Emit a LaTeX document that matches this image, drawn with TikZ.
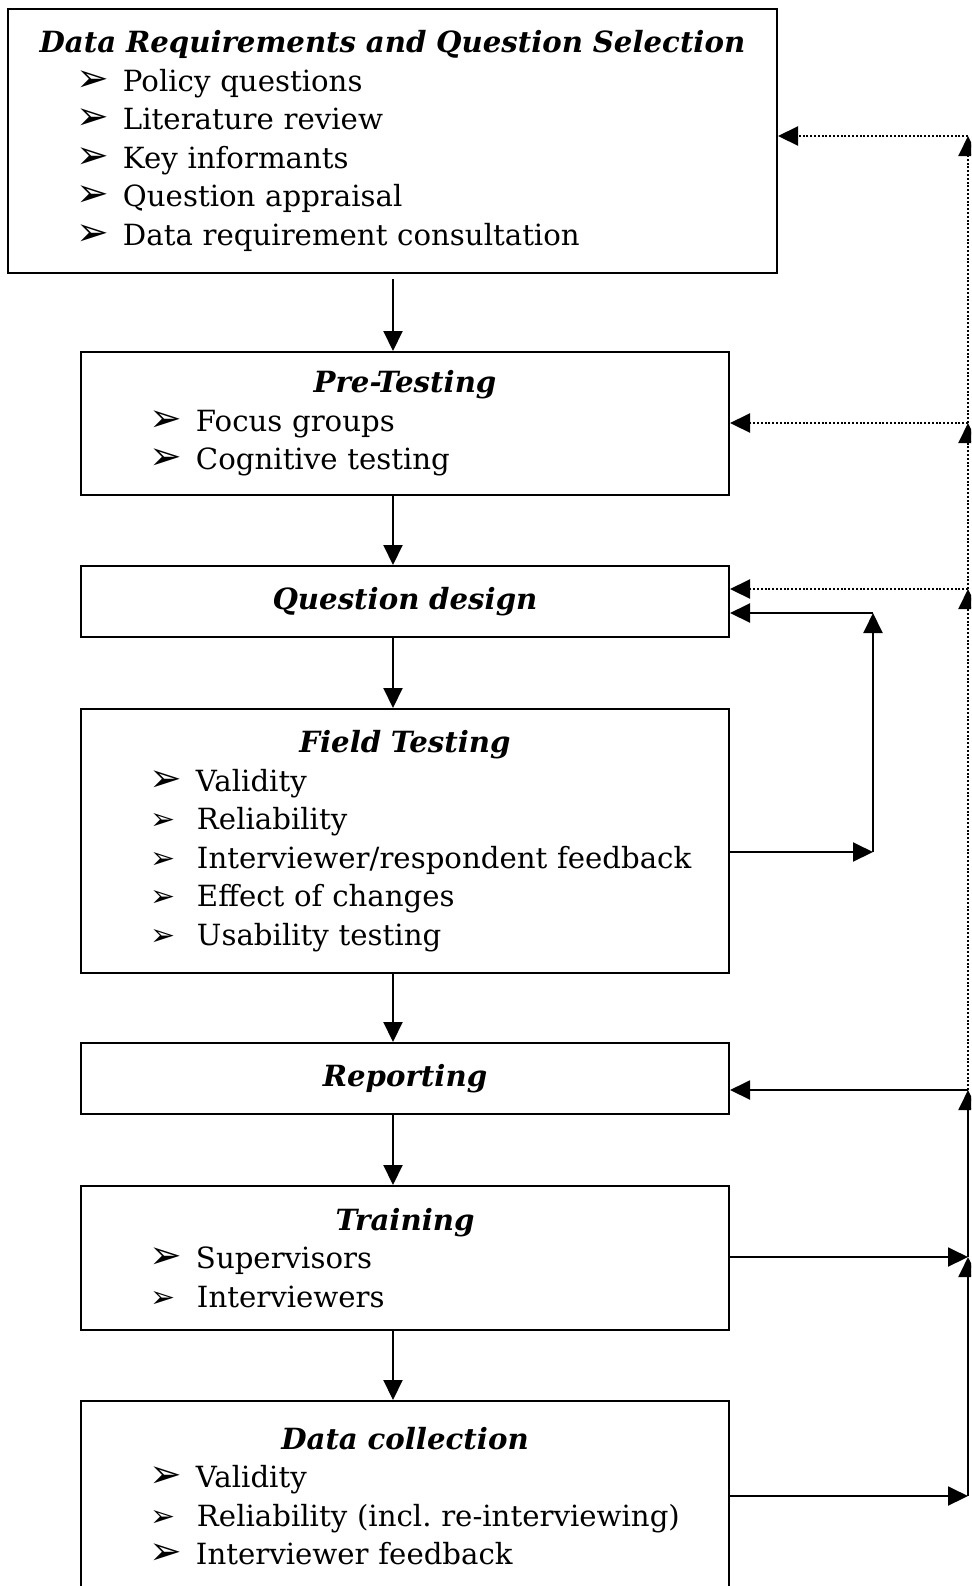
\documentclass[tikz,border=0pt]{standalone}
\usepackage{fontspec}
\setmainfont{DejaVu Serif}
\newfontfamily\dingfont{DejaVu Sans}
\usepackage{tikz}
\usetikzlibrary{positioning,arrows.meta,calc}

\newcommand{\bodyfont}{\fontsize{14.6}{19.25}\selectfont}
\newcommand{\ttl}{\fontsize{14.6}{19.25}\selectfont\bfseries\itshape}
\newcommand{\bigtip}{\makebox[23pt][l]{\dingfont\fontsize{19.5}{19}\selectfont ➢}}
\newcommand{\smltip}{\makebox[23pt][l]{\dingfont\fontsize{15}{15}\selectfont ➢}}
\newcommand{\itm}[1]{\par\hspace*{34.5pt}\bigtip#1}
\newcommand{\itms}[1]{\par\hspace*{35pt}\smltip#1}

\begin{document}
\begin{tikzpicture}[
  x=0.5pt, y=0.5pt,
  box/.style ={draw, line width=1pt, inner xsep=0pt, inner ysep=0pt,
               align=left, text width=324pt, font=\bodyfont},
  arr/.style ={-{Triangle[length=10pt,width=9.5pt]}, line width=1pt},
  darr/.style={arr, line width=1.1pt, dash pattern=on 1pt off 0.9pt}]

\clip (0,0) rectangle (971,-1586);

%% ── Stage boxes (top to bottom) ──────────────────────────────────
\node[box, text width=384.5pt, minimum height=132pt] (req) at (392.5,-141)
  {{\centering\ttl Data Requirements and Question Selection\par}
   \itm{Policy questions}
   \itm{Literature review}
   \itm{Key informants}
   \itm{Question appraisal}
   \itm{Data requirement consultation}};

\node[box, minimum height=71.5pt] (pretest) at (405,-423.5)
  {{\centering\ttl Pre-Testing\par}
   \itm{Focus groups}
   \itm{Cognitive testing}};

\node[box, minimum height=35.5pt] (design) at (405,-601.5)
  {{\centering\ttl Question design\par}};

\node[box, minimum height=132pt] (field) at (405,-841)
  {{\centering\ttl Field Testing\par}
   \itm{Validity}
   \itms{Reliability}
   \itms{Interviewer/respondent feedback}
   \itms{Effect of changes}
   \itms{Usability testing}};

\node[box, minimum height=35.5pt] (report) at (405,-1078.5)
  {{\centering\ttl Reporting\par}};

\node[box, minimum height=72pt] (train) at (405,-1258)
  {{\centering\ttl Training\par}
   \itm{Supervisors}
   \itms{Interviewers}};

\node[box, minimum height=95pt] (collect) at (405,-1496)
  {{\centering\ttl Data collection\par}
   \itm{Validity}
   \itms{Reliability (incl.\ re-interviewing)}
   \itm{Interviewer feedback}};

%% ── Main flow (down the middle) ──────────────────────────────────
\coordinate (spine) at (393,0);
\draw[arr] ($(req.south -| spine)+(0,-5)$) -- (pretest.north -| spine);
\draw[arr] (pretest.south -| spine) -- (design.north -| spine);
\draw[arr] (design.south -| spine)  -- (field.north -| spine);
\draw[arr] (field.south -| spine)   -- (report.north -| spine);
\draw[arr] (report.south -| spine)  -- (train.north -| spine);
\draw[arr] (train.south -| spine)   -- (collect.north -| spine);

%% ── Field testing loop back to question design ───────────────────
\coordinate (loopA) at (873,-852);
\coordinate (loopB) at (873,-613);
\draw[arr] (field.east |- loopA) -- (loopA);
\draw[arr] (loopA) -- (loopB);
\draw[arr] (loopB) -- (design.east |- loopB);

%% ── Feedback rail on the right ───────────────────────────────────
\coordinate (r1) at (968,-136);
\coordinate (r2) at (968,-423);
\coordinate (r3) at (968,-589);
\coordinate (r4) at (968,-1090);
\coordinate (r5) at (968,-1257);
\coordinate (r6) at (968,-1496);

\draw[arr] (collect.east |- r6) -- (r6);
\draw[arr] (train.east |- r5)   -- (r5);
\draw[arr] (r6) -- (r5);
\draw[arr] (r5) -- (r4);
\draw[arr] (r4) -- (report.east |- r4);

\draw[darr] (r4) -- (r3);
\draw[darr] (r3) -- (r2);
\draw[darr] (r2) -- (r1);
\draw[darr] (r3) -- (design.east |- r3);
\draw[darr] (r2) -- (pretest.east |- r2);
\draw[darr] (r1) -- (req.east |- r1);
\end{tikzpicture}
\end{document}
